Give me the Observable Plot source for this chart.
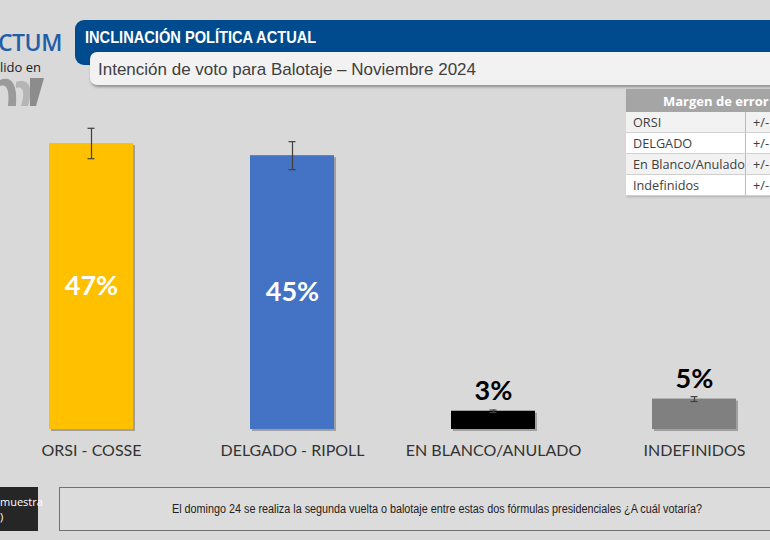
<!DOCTYPE html>
<html><head><meta charset="utf-8">
<script src="https://cdn.jsdelivr.net/npm/d3@7"></script>
<script src="https://cdn.jsdelivr.net/npm/@observablehq/plot@0.6"></script>
<style>
html,body{margin:0;padding:0;}
body{width:770px;height:540px;background:#d9d9d9;position:relative;overflow:hidden;font-family:"Liberation Sans",sans-serif;}
#chart{position:absolute;left:0;top:0;}
.abs{position:absolute;line-height:1;white-space:nowrap;}
#blue{left:75px;top:20px;width:720px;height:45px;background:#004b8d;border-radius:9px 0 0 9px;}
#htitle{left:85px;top:29px;color:#fff;font-weight:bold;font-size:17px;transform:scaleX(0.86);transform-origin:0 0;}
#white{left:90px;top:52px;width:700px;height:33px;background:#f2f2f2;border-radius:7px 0 0 7px;box-shadow:1px 2px 3px rgba(0,0,0,0.35);}
#sub{left:98px;top:61px;color:#404040;font-size:17px;}
#logo1{left:-2px;top:31px;color:#1f5fa8;font-family:"Open Sans",sans-serif;font-size:23px;font-weight:600;letter-spacing:-0.5px;}
#logo2{left:0px;top:61px;color:#222;font-family:"Open Sans",sans-serif;font-size:13px;}
table{position:absolute;left:626px;top:89px;border-collapse:collapse;font-family:"Open Sans",sans-serif;font-size:12.7px;color:#404040;box-shadow:1px 1px 2px rgba(0,0,0,0.2);}
td{height:20px;padding:0 0 0 7px;border-bottom:1px solid #d0d0d0;white-space:nowrap;}
td.c1{width:116px;border-right:1px solid #bbb;}
td.c2{width:60px;}
th{background:#a5a5a5;color:#fff;font-weight:bold;font-size:13px;height:21px;text-align:left;padding-left:37px;white-space:nowrap;}
tr.odd td{background:#f2f2f2;} tr.even td{background:#fff;}
#dark{left:-5px;top:487px;width:43px;height:44px;background:#262626;color:#fff;font-family:"Open Sans",sans-serif;font-size:11px;line-height:15px;padding:7px 0 0 5px;box-sizing:border-box;}
#cap{left:59px;top:487px;width:720px;height:44px;background:#dcdcdc;border:1px solid #707070;box-sizing:border-box;}
#captext{left:172px;top:503px;font-size:12px;color:#222;transform:scaleX(0.9);transform-origin:0 0;}
</style></head><body>
<div id="chart"></div>
<div class="abs" id="blue"></div>
<div class="abs" id="htitle">INCLINACIÓN POLÍTICA ACTUAL</div>
<div class="abs" id="white"></div>
<div class="abs" id="sub">Intención de voto para Balotaje – Noviembre 2024</div>
<div class="abs" id="logo1">CTUM</div>
<div class="abs" id="logo2">lido en</div>
<svg class="abs" style="left:0;top:76px" width="45" height="32"><path d="M0,4 C10,0 18,6 16,30 L8,30 C10,12 6,8 0,10 Z" fill="#9a9a9a"/><path d="M16,6 C28,2 34,10 28,30 L21,30 C26,14 22,10 16,12 Z" fill="#b5b5b5"/><path d="M30,2 L44,2 L36,30 L30,30 Z" fill="#8c8c8c"/></svg>
<table id="tbl"></table>
<div class="abs" id="dark">muestra<br>)</div>
<div class="abs" id="cap"></div>
<div class="abs" id="captext">El domingo 24 se realiza la segunda vuelta o balotaje entre estas dos fórmulas presidenciales ¿A cuál votaría?</div>
<script>
const categories = ["ORSI - COSSE", "DELGADO - RIPOLL", "EN BLANCO/ANULADO", "INDEFINIDOS"];
const values = [47, 45, 3, 5];
const errors = [2.5, 2.3, 0.2, 0.4];
const colors = ["#FFC000", "#4472C4", "#000000", "#808080"];
const tableRows = ["ORSI", "DELGADO", "En Blanco/Anulado", "Indefinidos"];
const tableValues = ["+/-", "+/-", "+/-", "+/-"];
const tableTitle = "Margen de error";

const data = categories.map((c, i) => ({cat: c, v: values[i], e: errors[i], color: colors[i]}));

const chart = Plot.plot({
  width: 770, height: 540,
  margin: 0,
  style: {background: "transparent", overflow: "visible"},
  x: {domain: categories, range: [-10, 796], paddingInner: 0.58, paddingOuter: 0.29, axis: null},
  y: {domain: [0, 50], range: [429, 124.75], axis: null},
  color: {domain: categories, range: colors},
  marks: [
    Plot.barY(data, {x: "cat", y: "v", fill: "#7a7a7a", fillOpacity: 0.6, dx: 2, dy: 2}),
    Plot.barY(data, {x: "cat", y: "v", fill: "cat"}),
    Plot.ruleX(data, {x: "cat", y1: d => d.v - d.e, y2: d => d.v + d.e, stroke: "#404040", strokeWidth: 1.2}),
    Plot.tickY(data, {x: "cat", y: d => d.v + d.e, stroke: "#404040", strokeWidth: 1.2, inset: 38.5}),
    Plot.tickY(data, {x: "cat", y: d => d.v - d.e, stroke: "#404040", strokeWidth: 1.2, inset: 38.5}),
    Plot.text(data.filter(d => d.v > 20), {x: "cat", y: d => d.v / 2, text: d => d.v + "%", fill: "#fff", fontSize: 27, fontWeight: "bold", fontFamily: "Lato, sans-serif"}),
    Plot.text(data.filter(d => d.v <= 20), {x: "cat", y: "v", text: d => d.v + "%", fill: "#000", fontSize: 27, fontWeight: "bold", fontFamily: "Lato, sans-serif", dy: -20}),
    Plot.text(data, {x: "cat", y: 0, text: "cat", fill: "#333", fontSize: 16, fontFamily: "Lato, sans-serif", dy: 21})
  ]
});
document.getElementById("chart").appendChild(chart);

const tbl = document.getElementById("tbl");
tbl.innerHTML = `<tr><th colspan="2">${tableTitle}</th></tr>` +
  tableRows.map((r, i) => `<tr class="${i % 2 ? "even" : "odd"}"><td class="c1">${r}</td><td class="c2">${tableValues[i]}</td></tr>`).join("");
</script>
</body></html>
